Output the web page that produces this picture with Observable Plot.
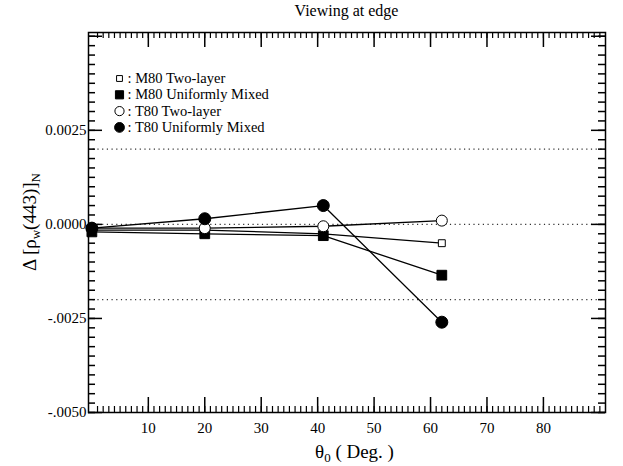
<!DOCTYPE html>
<html><head><meta charset="utf-8">
<script src="https://cdn.jsdelivr.net/npm/d3@7"></script>
<script src="https://cdn.jsdelivr.net/npm/@observablehq/plot@0.6"></script>
<style>
body{margin:0;background:#fff}
#chart svg{background:#fff}
#chart svg text{font-family:"Liberation Serif","Times New Roman",serif !important}
</style>
</head><body><div id="chart"></div>
<script>
// ---- data ----
const title = "Viewing at edge";
const seriesNames = ["M80 Two-layer", "M80 Uniformly Mixed", "T80 Two-layer", "T80 Uniformly Mixed"];
const theta = [0, 20, 41, 62];
const m80TwoLayer = [-0.00015, -0.00015, -0.00025, -0.0005];
const m80Mixed    = [-0.0002, -0.00025, -0.0003, -0.00135];
const t80TwoLayer = [-0.0001, -0.0001, -0.00005, 0.0001];
const t80Mixed    = [-0.0001, 0.00015, 0.0005, -0.0026];
const xTickValues = [10, 20, 30, 40, 50, 60, 70, 80];
const xTickLabels = ["10", "20", "30", "40", "50", "60", "70", "80"];
const yTickValues = [0.0025, 0, -0.0025, -0.005];
const yTickLabels = ["0.0025", "0.0000", "-.0025", "-.0050"];
const refLines = [0.002, 0, -0.002];

// ---- layout ----
const W = 623, H = 466;
const mL = 88, mR = 18, mT = 32, mB = 54;
const fw = W - mL - mR, fh = H - mT - mB;
const xDomain = [-0.6, 91], yDomain = [-0.005, 0.0051];

const seriesValues = [m80TwoLayer, m80Mixed, t80TwoLayer, t80Mixed];
const rows = seriesNames.flatMap((s, k) => theta.map((t, i) => ({series: s, t, v: seriesValues[k][i]})));
const markerStyle = [
  {symbol: "square", fill: "white", r: 3.9, lr: 3.3},
  {symbol: "square", fill: "black", r: 5.5, lr: 4.6},
  {symbol: "circle", fill: "white", r: 5.5, lr: 4.6},
  {symbol: "circle", fill: "black", r: 6.0, lr: 4.9}
];

const xMinor = d3.range(1, 91);
const xMajor = [10, 20, 30, 40, 50, 60, 70, 80];
const yMinor = d3.range(-20, 21).map(k => k * 0.00025);
const yMajor = [-0.005, -0.0025, 0, 0.0025, 0.005];
const xMinLen = 6, xMajLen = 15, yMinLen = 7, yMajLen = 14;

const marks = [
  Plot.ruleY(refLines, {y: d => d, stroke: "#333", strokeWidth: 1.2, strokeDasharray: "1.2,3.5"}),
  // ticks inward on all four sides
  Plot.tickX(xMinor, {x: d => d, insetTop: fh - xMinLen, stroke: "black", strokeWidth: 1.2}),
  Plot.tickX(xMinor, {x: d => d, insetBottom: fh - xMinLen, stroke: "black", strokeWidth: 1.2}),
  Plot.tickX(xMajor, {x: d => d, insetTop: fh - xMajLen, stroke: "black", strokeWidth: 1.5}),
  Plot.tickX(xMajor, {x: d => d, insetBottom: fh - xMajLen, stroke: "black", strokeWidth: 1.5}),
  Plot.tickY(yMinor, {y: d => d, insetRight: fw - yMinLen, stroke: "black", strokeWidth: 1.5}),
  Plot.tickY(yMinor, {y: d => d, insetLeft: fw - yMinLen, stroke: "black", strokeWidth: 1.5}),
  Plot.tickY(yMajor, {y: d => d, insetRight: fw - yMajLen, stroke: "black", strokeWidth: 1.5}),
  Plot.tickY(yMajor, {y: d => d, insetLeft: fw - yMajLen, stroke: "black", strokeWidth: 1.5}),
  Plot.frame({stroke: "black", strokeWidth: 1.5}),
  Plot.axisX({ticks: xTickValues, tickFormat: d => xTickLabels[xTickValues.indexOf(d)], tickSize: 0, tickPadding: 10, fontSize: 15, label: null}),
  Plot.axisY({ticks: yTickValues, tickFormat: d => yTickLabels[yTickValues.indexOf(d)], tickSize: 0, tickPadding: 2, fontSize: 15, label: null}),
  Plot.line(rows, {x: "t", y: "v", z: "series", stroke: "black", strokeWidth: 1.3})
];
seriesNames.forEach((s, k) => {
  const st = markerStyle[k];
  marks.push(Plot.dot(rows.filter(d => d.series === s), {x: "t", y: "v", symbol: st.symbol, r: st.r, fill: st.fill, stroke: "black", strokeWidth: 1}));
});
// legend
seriesNames.forEach((s, k) => {
  const st = markerStyle[k];
  const dy = 46 + k * 16.3;
  marks.push(Plot.dot([s], {frameAnchor: "top-left", dx: 31, dy, symbol: st.symbol, r: st.lr, fill: st.fill, stroke: "black", strokeWidth: 1}));
  marks.push(Plot.text([s], {frameAnchor: "top-left", dx: 39, dy, text: d => ": " + d, textAnchor: "start", lineAnchor: "middle", fontSize: 14.5, fill: "black"}));
});

const svg = Plot.plot({
  width: W, height: H,
  marginLeft: mL, marginRight: mR, marginTop: mT, marginBottom: mB,
  x: {domain: xDomain},
  y: {domain: yDomain},
  style: {fontFamily: "'Liberation Serif', serif", color: "black", background: "white"},
  marks
});

const g = d3.select(svg);
g.append("text").attr("x", mL + fw / 2).attr("y", 16).attr("text-anchor", "middle")
  .attr("font-size", 16).attr("fill", "black").text(title);

const xl = g.append("text").attr("x", mL + fw / 2 + 8).attr("y", 458).attr("text-anchor", "middle")
  .attr("font-size", 19).attr("fill", "black");
xl.append("tspan").text("θ");
xl.append("tspan").attr("dy", 4).attr("font-size", 13).text("0");
xl.append("tspan").attr("dy", -4).text(" ( Deg. )");

const yl = g.append("text").attr("transform", `translate(36,${mT + fh / 2}) rotate(-90)`).attr("text-anchor", "middle")
  .attr("font-size", 19).attr("fill", "black");
yl.append("tspan").text("Δ [ρ");
yl.append("tspan").attr("dy", 4).attr("font-size", 13).text("w");
yl.append("tspan").attr("dy", -4).text("(443)]");
yl.append("tspan").attr("dy", 4).attr("font-size", 13).text("N");

document.getElementById("chart").appendChild(svg);
</script>
</body></html>
